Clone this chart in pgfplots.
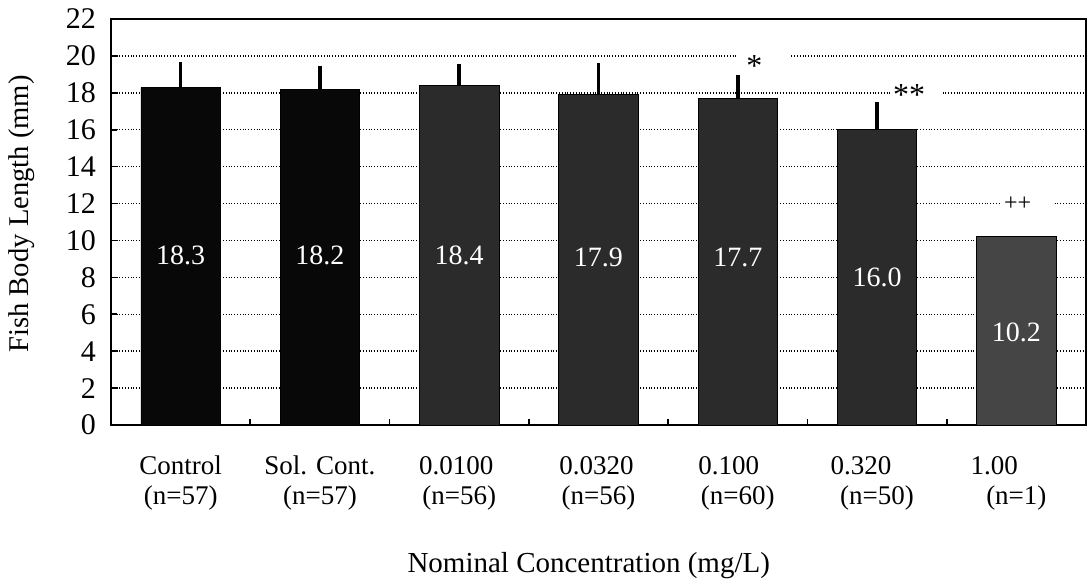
\documentclass[border=0pt]{standalone}
\usepackage{fontspec}
\setmainfont{Liberation Serif}
\usepackage{pgfplots}
\pgfplotsset{compat=1.18}
\newcommand\sh[2]{\hspace*{#1}#2\hspace*{-#1}}
\definecolor{barA}{gray}{0.03}
\definecolor{barB}{gray}{0.17}
\definecolor{barC}{gray}{0.27}
\begin{document}
\begin{tikzpicture}
\path[use as bounding box] (-55.5pt,-79.5pt) rectangle (489pt,212.5pt);
\begin{axis}[
  at={(0pt,0pt)}, anchor=south west,
  scale only axis, width=487.5pt, height=203pt,
  xmin=-0.5, xmax=6.5, ymin=0, ymax=22,
  axis line style={line width=1pt},
  ytick={0,2,...,22},
  xtick={0.5,1.5,...,5.5},
  xticklabels={},
  extra x ticks={0,1,2,3,4,5,6},
  extra x tick labels={%
    {Control\\(n=57)},
    {Sol. Cont.\\(n=57)},
    {\sh{-1.5pt}{0.0100}\\(n=56)},
    {\sh{-1pt}{0.0320}\\(n=56)},
    {\sh{-4.5pt}{0.100}\\(n=60)},
    {\sh{-8pt}{0.320}\\(n=50)},
    {\sh{-11pt}{1.00}\\(n=1)}},
  extra x tick style={major tick length=0pt},
  tick align=inside,
  xtick pos=bottom, ytick pos=left,
  major tick length=3pt,
  tick style={black, line width=0.8pt},
  ymajorgrids,
  grid style={densely dotted, line width=0.7pt, black},
  /pgf/number format/assume math mode=true,
  yticklabel style={font=\fontsize{15}{16}\selectfont, xshift=-4pt},
  xticklabel style={font=\fontsize{13.5}{15}\selectfont, align=center, yshift=-12pt},
  xlabel={Nominal Concentration (mg/L)},
  xlabel style={font=\fontsize{14.5}{16}\selectfont, at={(axis description cs:0.49,-0.345)}, anchor=center},
  ylabel={Fish Body Length (mm)},
  ylabel style={font=\fontsize{14.3}{16}\selectfont, at={(axis description cs:-0.092,0.52)}, anchor=center},
  error bars/y dir=plus, error bars/y explicit,
  error bars/error mark=none,
  error bars/error bar style={line width=1.8pt, black},
]
% white gaps in the grid lines next to the significance markers
\addplot[draw=none, mark=none, forget plot,
  nodes near coords={}, 
  nodes near coords style={anchor=center, fill=white, inner sep=0pt, minimum width=26pt, minimum height=4pt}]
  coordinates {(4.19,20) (5.28,18) (6.08,12)};
% significance markers
\addplot[draw=none, mark=none, forget plot,
  nodes near coords, point meta=explicit symbolic,
  nodes near coords style={anchor=center, text=black, font=\fontsize{16}{16}\selectfont}]
  coordinates {(4.12,19.45)[*] (5.23,17.9)[**] (6.01,12.0)[{\fontsize{12}{12}\selectfont ++}]};
\addplot[ybar, bar shift=0pt, bar width=0.57, fill=barA, draw=black]
  coordinates {(0,18.3) +- (0,1.37) (1,18.2) +- (0,1.26)};
\addplot[ybar, bar shift=0pt, bar width=0.57, fill=barB, draw=black]
  coordinates {(2,18.4) +- (0,1.17) (3,17.9) +- (0,1.72) (4,17.7) +- (0,1.27) (5,16.0) +- (0,1.5)};
\addplot[ybar, bar shift=0pt, bar width=0.57, fill=barC, draw=black]
  coordinates {(6,10.2)};
\begin{scope}[every node/.style={text=white, font=\fontsize{14}{16}\selectfont}]
\node at (axis cs:0,9.2) {18.3};
\node at (axis cs:1,9.2) {18.2};
\node at (axis cs:2,9.2) {18.4};
\node at (axis cs:3,9.1) {17.9};
\node at (axis cs:4,9.1) {17.7};
\node at (axis cs:5,8.0) {16.0};
\node at (axis cs:6,5.0) {10.2};
\end{scope}
\end{axis}
\end{tikzpicture}
\end{document}
